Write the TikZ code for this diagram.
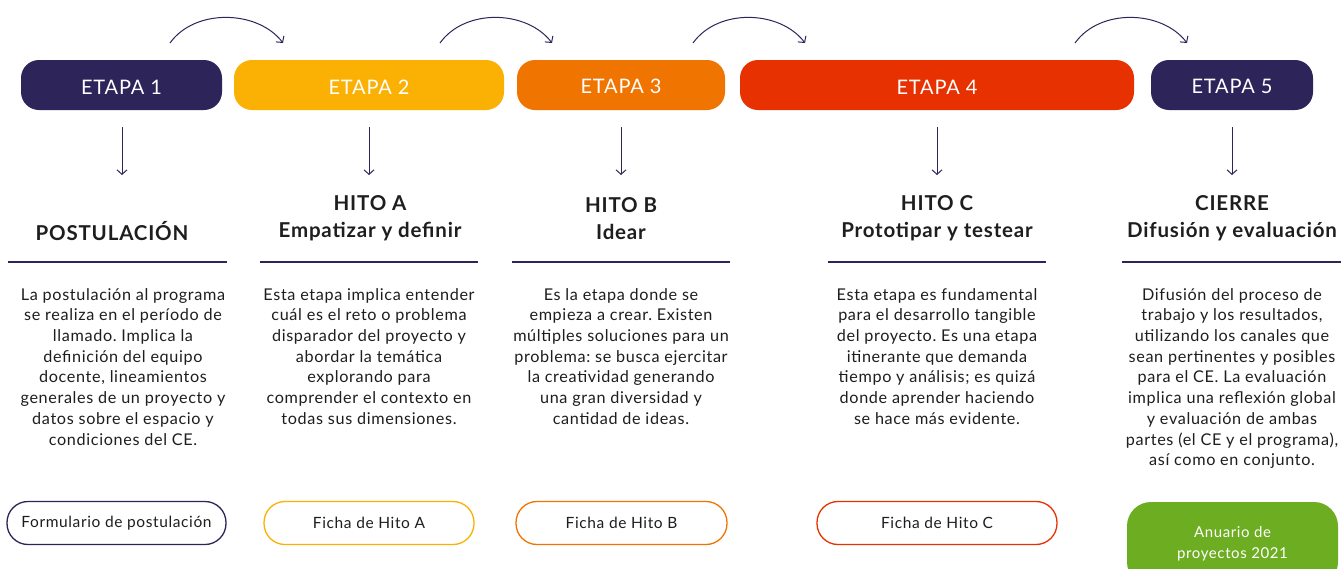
\documentclass[tikz,border=0pt]{standalone}
\usepackage{fontspec}
\setmainfont{Lato}[LetterSpace=4]
\frenchspacing
\usetikzlibrary{arrows.meta}
\definecolor{navy}{HTML}{2D2459}
\definecolor{amber}{HTML}{FBB103}
\definecolor{orng}{HTML}{F07400}
\definecolor{redd}{HTML}{E83100}
\definecolor{grn}{HTML}{6DAD22}
\definecolor{ink}{HTML}{1E1E1E}
\begin{document}
\begin{tikzpicture}[x=1pt,y=-1pt,
  stagebox/.style={rectangle, rounded corners=18pt, minimum height=50pt, inner sep=0pt,
    text=white, font=\fontsize{20}{24}\selectfont, text height=18pt},
  docbox/.style={rectangle, rounded corners=21pt, minimum height=43pt, inner sep=0pt,
    draw, line width=1.3pt, fill=white, text=ink, font=\fontsize{15.5}{18}\selectfont},
  headtxt/.style={align=center, text=ink, inner sep=0pt, font=\bfseries\fontsize{20.5}{27}\selectfont},
  bodytxt/.style={align=center, text=ink, inner sep=0pt, anchor=north, font=\fontsize{16.2}{20.7}\selectfont},
  rule/.style={draw=navy, line width=1.2pt},
  arcarrow/.style={draw=navy, line width=1pt, -{Straight Barb[length=4.5pt,width=10pt,line width=1pt]}},
  downarrow/.style={draw=navy, line width=1pt, -{Straight Barb[length=4.5pt,width=10pt,line width=1pt]}}
]
\clip (0,0) rectangle (1341,568);
\fill[white] (0,0) rectangle (1341,568);

% stage pills
\node[stagebox, fill=navy,  minimum width=201pt] (e1) at (121.5,85) {ETAPA 1};
\node[stagebox, fill=amber, minimum width=270pt] (e2) at (369,85) {ETAPA 2};
\node[stagebox, fill=orng,  minimum width=208pt] (e3) at (621,85) {ETAPA 3};
\node[stagebox, fill=redd,  minimum width=394pt] (e4) at (937,85) {ETAPA 4};
\node[stagebox, fill=navy,  minimum width=162pt] (e5) at (1232,85) {ETAPA 5};

% top arcs
\coordinate (a1s) at (170,43); \coordinate (a1e) at (283,43);
\coordinate (a2s) at (440,43); \coordinate (a2e) at (552,43);
\coordinate (a3s) at (693,43); \coordinate (a3e) at (805,43);
\coordinate (a4s) at (1075,43); \coordinate (a4e) at (1187,43);
\draw[arcarrow] (a1s) .. controls (195,8) and (258,10) .. (a1e);
\draw[arcarrow] (a2s) .. controls (465,8) and (527,10) .. (a2e);
\draw[arcarrow] (a3s) .. controls (718,8) and (780,10) .. (a3e);
\draw[arcarrow] (a4s) .. controls (1100,8) and (1162,10) .. (a4e);

% down arrows
\coordinate (d1s) at (122,127);  \coordinate (d1e) at (122,175);
\coordinate (d2s) at (369,127);  \coordinate (d2e) at (369,175);
\coordinate (d3s) at (621,127);  \coordinate (d3e) at (621,175);
\coordinate (d4s) at (937,127);  \coordinate (d4e) at (937,175);
\coordinate (d5s) at (1232,127); \coordinate (d5e) at (1232,175);
\foreach \i in {1,...,5} {\draw[downarrow] (d\i s) -- (d\i e);}

% headings
\node[headtxt] (h1) at (112,231) {POSTULACIÓN};
\node[headtxt] (h2) at (370,218.5) {HITO A\\Empatizar y definir};
\node[headtxt] (h3) at (621,218.5) {HITO B\\Idear};
\node[headtxt] (h4) at (937,218.5) {HITO C\\Prototipar y testear};
\node[headtxt] (h5) at (1232,218.5) {CIERRE\\Difusión y evaluación};

% rules
\coordinate (r1s) at (8,262);    \coordinate (r1e) at (227,262);
\coordinate (r2s) at (260,262);  \coordinate (r2e) at (478,262);
\coordinate (r3s) at (512,262);  \coordinate (r3e) at (730,262);
\coordinate (r4s) at (828,262);  \coordinate (r4e) at (1046,262);
\coordinate (r5s) at (1122,262); \coordinate (r5e) at (1341,262);
\foreach \i in {1,...,5} {\draw[rule] (r\i s) -- (r\i e);}

% body texts
\node[bodytxt] (b1) at (123,288) {La postulación al programa\\se realiza en el período de\\llamado. Implica la\\definición del equipo\\docente, lineamientos\\generales de un proyecto y\\datos sobre el espacio y\\condiciones del CE.};
\node[bodytxt] (b2) at (369,288) {Esta etapa implica entender\\cuál es el reto o problema\\disparador del proyecto y\\abordar la temática\\explorando para\\comprender el contexto en\\todas sus dimensiones.};
\node[bodytxt] (b3) at (621,288) {Es la etapa donde se\\empieza a crear. Existen\\múltiples soluciones para un\\problema: se busca ejercitar\\la creatividad generando\\una gran diversidad y\\cantidad de ideas.};
\node[bodytxt] (b4) at (937,288) {Esta etapa es fundamental\\para el desarrollo tangible\\del proyecto. Es una etapa\\itinerante que demanda\\tiempo y análisis; es quizá\\donde aprender haciendo\\se hace más evidente.};
\node[bodytxt] (b5) at (1232,288) {Difusión del proceso de\\trabajo y los resultados,\\utilizando los canales que\\sean pertinentes y posibles\\para el CE. La evaluación\\implica una reflexión global\\y evaluación de ambas\\partes (el CE y el programa),\\así como en conjunto.};

% document pills
\node[docbox, draw=navy,  minimum width=219pt] (f1) at (116.5,523) {Formulario de postulación};
\node[docbox, draw=amber, minimum width=210pt] (f2) at (369,523) {Ficha de Hito A};
\node[docbox, draw=orng,  minimum width=211pt] (f3) at (621.5,523) {Ficha de Hito B};
\node[docbox, draw=redd,  minimum width=240pt] (f4) at (937,523) {Ficha de Hito C};
\node[rectangle, rounded corners=24pt, fill=grn, minimum width=211pt, minimum height=84pt,
  inner sep=0pt, align=center, text=white, font=\fontsize{15}{21}\selectfont] (f5) at (1232.5,544) {Anuario de\\proyectos 2021};
\end{tikzpicture}
\end{document}
